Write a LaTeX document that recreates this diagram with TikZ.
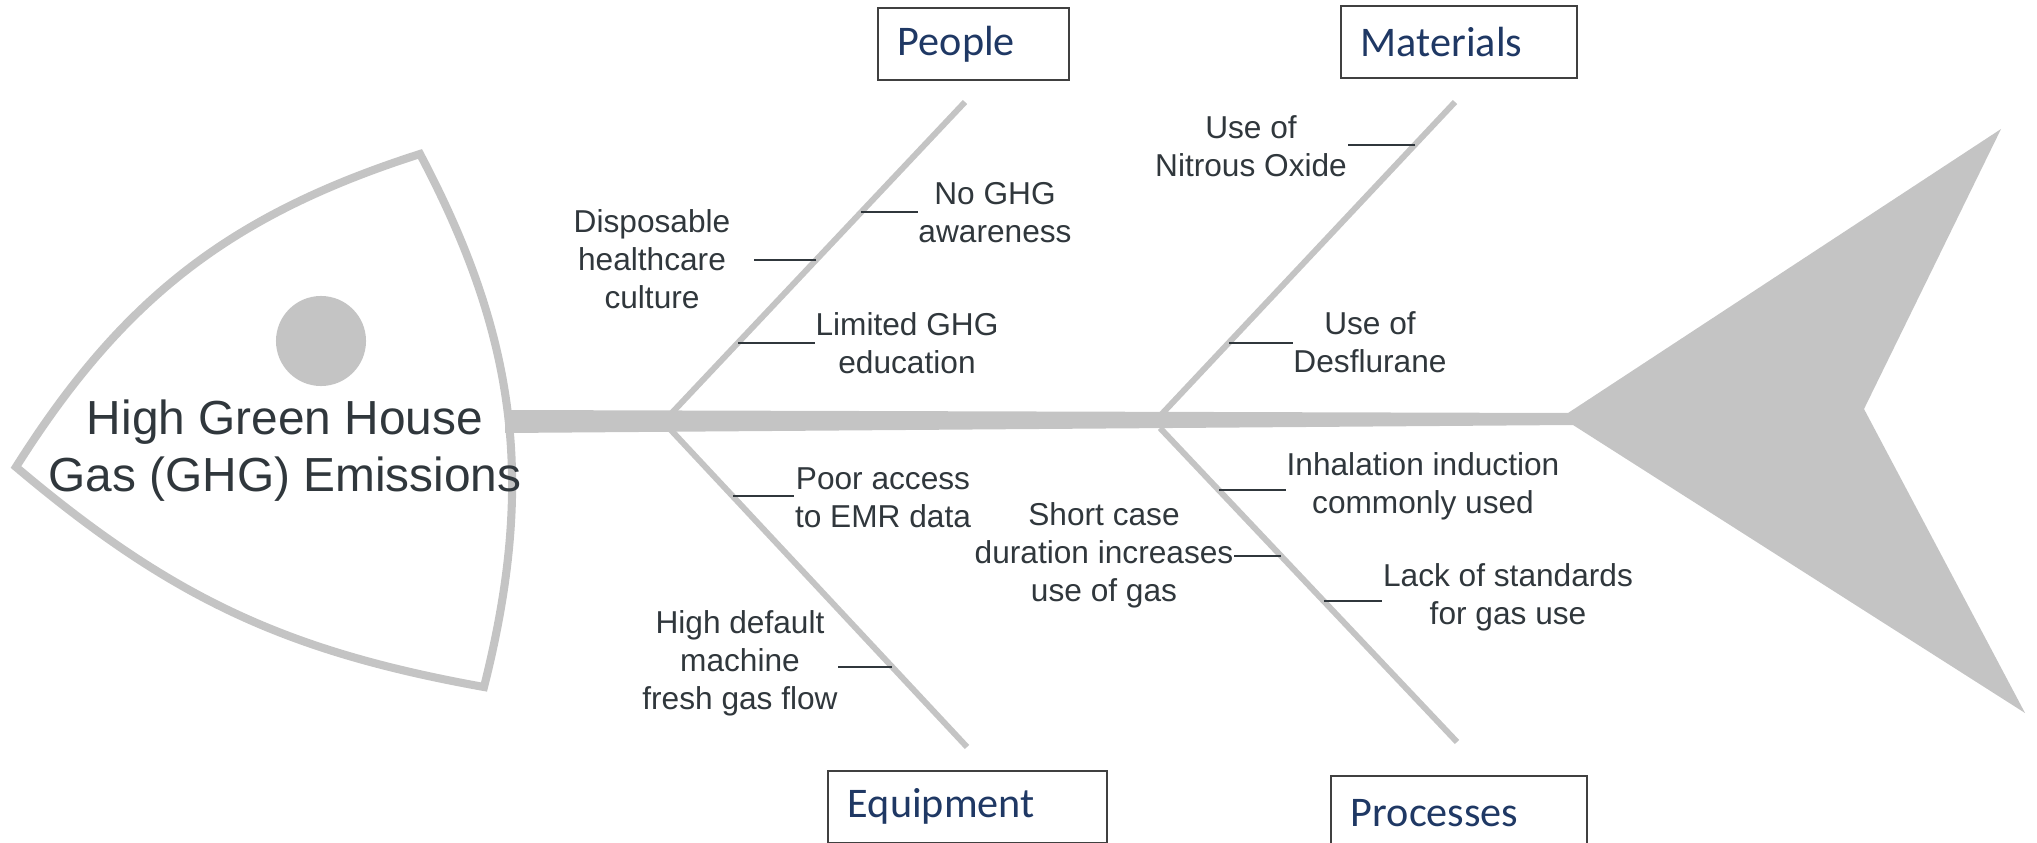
\documentclass[tikz,border=0pt]{standalone}
\usepackage{fontspec}
\setmainfont{Liberation Sans}
\newfontfamily\catfont{Carlito}
\usepackage{xcolor}
\definecolor{fishgray}{RGB}{196,196,196}
\definecolor{causegray}{HTML}{30373C}
\definecolor{catblue}{HTML}{1F3864}
\newcommand{\drawCauseTick}[4][]{
\draw [causetick,#1] (#2) -- (#2 -| #3.#4);
}
\tikzset{
bone/.style={line width=1.7pt,fishgray},
causetick/.style={line width=0.45pt,causegray},
cause/.style={align=center,inner sep=0pt,text=causegray,font=\fontsize{9}{10.8}\selectfont},
catbox/.style={draw=black!75,line width=0.5pt,anchor=north west,inner xsep=0.2cm,inner ysep=0pt,minimum height=0.72cm,align=left,text=catblue,font=\catfont\fontsize{12}{14}\selectfont}
}
\begin{document}
\begin{tikzpicture}[x=0.01cm,y=-0.01cm]
\useasboundingbox (0,0) rectangle (2037,843);
\clip (0,0) rectangle (2037,843);
\draw [line width=2.3pt,fishgray] (16,467) to[bend left=20] (420,154) to[bend left=21] (484,687) to[bend left=15] (16,467) -- cycle;
\fill [fishgray] (321,341) circle [radius=0.45cm];
\fill [fishgray] (505,410) -- (1568,413) -- (2001,129) -- (1864,409) -- (2025,713) -- (1573,425) -- (505,433) -- cycle;
\coordinate (pj) at (668,417);
\coordinate (pe) at (965,102);
\coordinate (mj) at (1159,417);
\coordinate (me) at (1455,102);
\coordinate (ej) at (669,428);
\coordinate (ee) at (967,747);
\coordinate (rj) at (1160,428);
\coordinate (re) at (1457,742);
\draw [bone] (pj) -- (pe);
\draw [bone] (mj) -- (me);
\draw [bone] (ej) -- (ee);
\draw [bone] (rj) -- (re);
\node (people) at (877,7) [catbox,text width=1.51cm] {People};
\node (materials) at (1340,5) [catbox,text width=1.96cm] {Materials};
\node (equipment) at (827,770) [catbox,text width=2.39cm,minimum height=0.715cm] {Equipment};
\node (processes) at (1330,775) [catbox,text width=2.16cm,minimum height=0.74cm] {Processes};
\node (effect) at (285,451) [align=center,inner sep=0pt,text=causegray,font=\fontsize{13.6}{16.2}\selectfont] {High Green House\\Gas (GHG) Emissions};
\node (nogha) at (995,213) [cause] {No GHG\\awareness};
\node (dispo) at (652,259) [cause] {Disposable\\healthcare\\culture};
\node (limit) at (907,343) [cause] {Limited GHG\\education};
\node (nitro) at (1251,146) [cause] {Use of\\Nitrous Oxide};
\node (desfl) at (1370,342) [cause] {Use of\\Desflurane};
\node (poor) at (883,498) [cause] {Poor access\\to EMR data};
\node (mach) at (740,663) [cause] {High default\\machine\\fresh gas flow};
\node (inhal) at (1423,486) [cause] {Inhalation induction\\commonly used};
\node (short) at (1104,555) [cause] {Short case\\duration increases\\use of gas};
\node (lack) at (1508,597) [cause] {Lack of standards\\for gas use};
\coordinate (t1) at (861,212);
\coordinate (t2) at (816,260);
\coordinate (t3) at (738,343);
\coordinate (t4) at (1415,145);
\coordinate (t5) at (1229,343);
\coordinate (t6) at (733,496);
\coordinate (t7) at (892,667);
\coordinate (t8) at (1219,490);
\coordinate (t9) at (1281,556);
\coordinate (t10) at (1324,601);
\drawCauseTick{t1}{nogha}{west}
\drawCauseTick[shorten >=0.23cm]{t2}{dispo}{east}
\drawCauseTick{t3}{limit}{west}
\drawCauseTick{t4}{nitro}{east}
\drawCauseTick{t5}{desfl}{west}
\drawCauseTick{t6}{poor}{west}
\drawCauseTick{t7}{mach}{east}
\drawCauseTick{t8}{inhal}{west}
\drawCauseTick{t9}{short}{east}
\drawCauseTick{t10}{lack}{west}
\end{tikzpicture}
\end{document}
